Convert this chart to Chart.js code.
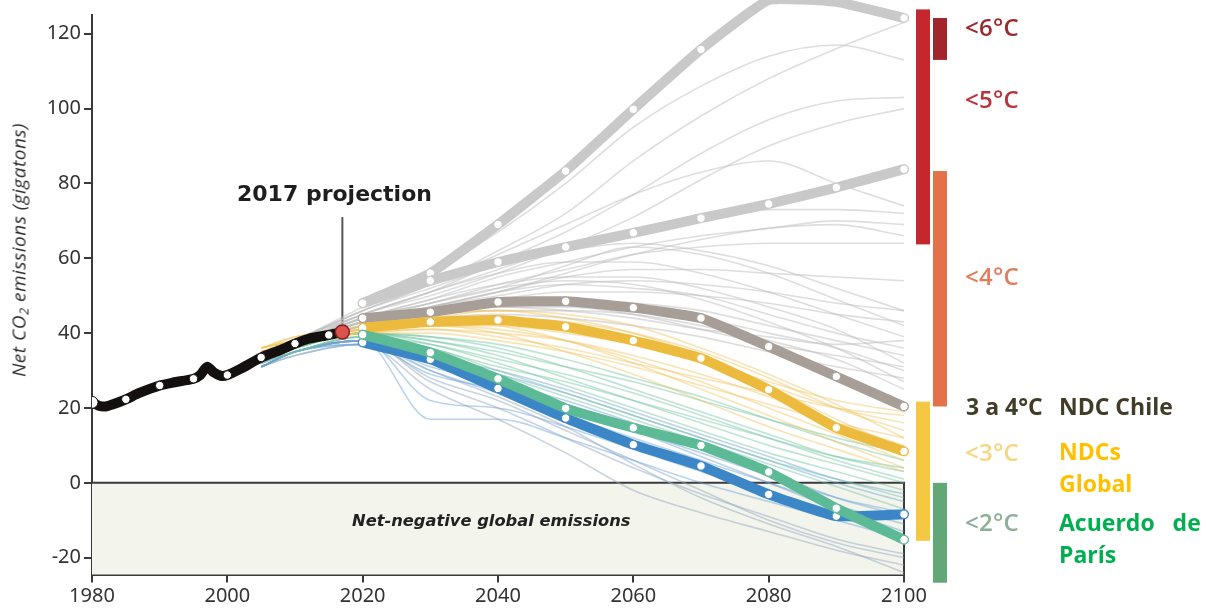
<!DOCTYPE html>
<html>
<head>
<meta charset="utf-8">
<script src="https://cdn.jsdelivr.net/npm/chart.js@4.4.1/dist/chart.umd.min.js"></script>
<style>
  html, body { margin: 0; padding: 0; background: #fff; }
  #wrap { position: relative; width: 1206px; height: 609px; overflow: hidden; }
  #c { position: absolute; left: 0; top: 0; }
  .t { position: absolute; white-space: nowrap; line-height: 1; font-family: "Open Sans", sans-serif; }
  .temp { font-weight: 600; font-size: 24px; letter-spacing: 0.3px; }
  .note { font-weight: 700; font-size: 23px; }
</style>
</head>
<body>
<div id="wrap">
  <canvas id="c" width="1206" height="609"></canvas>
  <div class="t" id="ytitle" style="left:20px; top:250px; transform: translate(-50%,-50%) rotate(-90deg); font-style: italic; font-size: 19px; color:#2e2e2e; letter-spacing: 0.5px;">Net CO<sub style="font-size:13px; vertical-align:-3px;">2</sub> emissions (gigatons)</div>
  <div class="t" style="left:237px; top:183px; font-family:'DejaVu Sans',sans-serif; font-weight:700; font-size:22px; color:#1e1e1e;">2017 projection</div>
  <div class="t" style="left:352px; top:513px; font-family:'DejaVu Sans',sans-serif; font-weight:700; font-style:italic; font-size:16.3px; color:#222;">Net-negative global emissions</div>

  <div class="t temp" style="left:965px; top:15px; color:#9b2a2e;">&lt;6°C</div>
  <div class="t temp" style="left:965px; top:87px; color:#b8343a;">&lt;5°C</div>
  <div class="t temp" style="left:965px; top:264px; color:#e27d5c;">&lt;4°C</div>
  <div class="t temp" style="left:965px; top:440px; color:#f6d680;">&lt;3°C</div>
  <div class="t temp" style="left:965px; top:510px; color:#8fae97;">&lt;2°C</div>

  <div class="t note" style="left:966px; top:395px; color:#403c28;">3 a 4°C</div>
  <div class="t note" style="left:1059px; top:395px; color:#403c28;">NDC Chile</div>
  <div class="t note" style="left:1059px; top:440px; color:#ffc000;">NDCs</div>
  <div class="t note" style="left:1059px; top:472px; color:#ffc000;">Global</div>
  <div class="t note" style="left:1059px; top:511px; color:#00b050; word-spacing: 12px;">Acuerdo de</div>
  <div class="t note" style="left:1059px; top:543px; color:#00b050;">París</div>
</div>
<script>
// ---------------- DATA ----------------
const xTicks = [1980, 2000, 2020, 2040, 2060, 2080, 2100];
const yTicks = [-20, 0, 20, 40, 60, 80, 100, 120];

// historical emissions
const histYears  = [1980, 1981, 1982, 1983, 1985, 1987, 1990, 1992, 1995, 1996, 1997, 1998, 1999, 2000, 2002, 2005, 2008, 2010, 2012, 2015, 2017];
const histValues = [21.5, 20.6, 20.4, 20.9, 22.3, 24.0, 26.0, 26.8, 27.8, 28.8, 31.0, 29.5, 28.6, 28.8, 30.5, 33.5, 35.6, 37.2, 38.5, 39.5, 40.3];
const projYear = 2017;
const projValue = 40.3;

// highlighted scenarios
const scenYears = [2020, 2030, 2040, 2050, 2060, 2070, 2080, 2090, 2100];
const scen6C     = [48.0, 56.0, 69.0, 83.3, 99.8, 115.8, 129.0, 128.5, 124.2];
const scen5C     = [48.0, 54.0, 59.0, 63.0, 66.8, 70.7, 74.5, 78.9, 83.8];
const scenChile  = [44.0, 45.6, 48.3, 48.5, 46.8, 44.0, 36.4, 28.4, 20.4];
const scenNDC    = [41.4, 43.0, 43.5, 41.7, 38.0, 33.3, 24.9, 14.7, 8.4];
const scenParis  = [39.6, 34.8, 27.8, 19.9, 14.7, 10.0, 2.9, -6.8, -15.2];
const scenBlue   = [37.5, 33.0, 25.2, 17.3, 10.2, 4.5, -3.1, -8.9, -8.4];

// background scenario ensemble
const thinYears = [2005, 2010, 2020, 2030, 2040, 2050, 2060, 2070, 2080, 2090, 2100];
const grayThin = [
  [34, 38, 47, 56, 67, 80, 95, 106, 114, 117, 113],
  [34, 38, 46, 53, 62, 72, 86, 98, 108, 116, 123],
  [33, 38, 45, 51, 59, 67, 77, 88, 97, 102, 103],
  [33, 37, 45, 50, 56, 63, 71, 81, 90, 96, 100],
  [34, 38, 46, 53, 61, 69, 77, 83, 86, 80, 74],
  [33, 37, 45, 51, 57, 63, 67, 71, 73, 73, 72],
  [33, 37, 44, 49, 55, 59, 63, 66, 68, 70, 69],
  [33, 37, 44, 48, 53, 57, 61, 63, 64, 64, 64],
  [33, 37, 44, 47, 51, 55, 57, 57, 56, 55, 54],
  [32, 37, 43, 47, 50, 53, 54, 53, 51, 48, 46],
  [32, 36, 43, 46, 49, 51, 51, 50, 48, 45, 43],
  [33, 37, 43, 47, 51, 53, 52, 50, 45, 40, 36],
  [32, 36, 42, 46, 48, 49, 48, 46, 42, 38, 34],
  [32, 36, 42, 45, 47, 48, 47, 44, 40, 36, 30],
  [33, 37, 43, 48, 52, 54, 53, 49, 43, 36, 27],
  [33, 37, 44, 49, 53, 55, 55, 52, 47, 41, 32],
  [32, 36, 42, 45, 46, 46, 45, 42, 38, 33, 25],
  [34, 38, 45, 51, 56, 59, 59, 56, 51, 45, 39],
  [33, 37, 43, 47, 51, 56, 61, 65, 68, 69, 66],
  [33, 37, 44, 48, 52, 58, 63, 61, 56, 49, 42],
  [32, 36, 42, 44, 45, 44, 42, 39, 35, 31, 28],
  [33, 37, 43, 46, 47, 46, 44, 41, 39, 37, 38],
  [34, 38, 46, 52, 58, 62, 64, 62, 58, 52, 46],
  [32, 36, 42, 45, 47, 47, 45, 41, 37, 34, 31]
];
const yellowThin = [
  [36, 38, 41, 43, 44, 43, 40, 35, 28, 20, 14],
  [36, 38, 41, 42, 42, 40, 37, 32, 26, 20, 16],
  [35, 38, 40, 41, 40, 38, 34, 29, 23, 16, 10],
  [36, 39, 41, 44, 46, 45, 42, 36, 29, 21, 12],
  [35, 38, 40, 42, 41, 38, 33, 27, 20, 13, 6],
  [36, 39, 42, 45, 46, 44, 40, 34, 26, 17, 9],
  [35, 37, 40, 40, 38, 35, 31, 26, 21, 16, 12],
  [35, 38, 41, 43, 42, 38, 32, 25, 18, 11, 4],
  [35, 37, 40, 41, 39, 36, 32, 28, 24, 20, 18],
  [36, 38, 41, 42, 40, 35, 29, 22, 15, 9, 3],
  [36, 38, 41, 43, 43, 41, 38, 33, 27, 22, 19]
];
const tealThin = [
  [33, 36, 40, 37, 32, 26, 20, 14, 8, 3, -2],
  [33, 36, 40, 38, 34, 28, 22, 16, 10, 5, 0],
  [32, 35, 39, 36, 30, 24, 18, 12, 6, 1, -4],
  [33, 36, 40, 39, 36, 31, 25, 19, 13, 7, 3],
  [32, 35, 39, 35, 29, 23, 17, 11, 5, -1, -7],
  [33, 36, 40, 38, 35, 31, 27, 22, 17, 12, 8],
  [32, 35, 39, 37, 33, 29, 24, 18, 12, 6, 1],
  [33, 36, 40, 36, 31, 27, 22, 17, 12, 7, 4],
  [33, 36, 40, 39, 37, 33, 28, 23, 17, 11, 6]
];
const blueThin = [
  [31, 35, 38, 17, 17, 12, 6, 0, -5, -10, -15],
  [31, 35, 38, 22, 20, 15, 9, 3, -3, -9, -14],
  [31, 35, 38, 28, 22, 14, 6, -2, -10, -16, -20],
  [31, 35, 37, 30, 24, 18, 12, 6, 0, -6, -11],
  [31, 35, 38, 32, 26, 20, 14, 7, 0, -7, -13],
  [31, 34, 37, 25, 17, 8, -2, -8, -13, -18, -22],
  [31, 35, 38, 31, 27, 22, 16, 10, 3, -4, -9],
  [31, 35, 37, 33, 29, 24, 18, 12, 6, 0, -5],
  [31, 35, 38, 30, 23, 15, 5, -4, -11, -17, -24],
  [31, 35, 38, 34, 30, 25, 19, 13, 7, 1, -3],
  [31, 34, 37, 29, 25, 20, 14, 8, 2, -4, -8],
  [31, 35, 38, 27, 20, 12, 4, -3, -9, -15, -19]
];

// temperature bands (value ranges on the emissions axis)
const bandLabels = ['<5°C', '<6°C', '<4°C', '<3°C', '<2°C'];
const bandLow    = [63.7, 113.0, 20.4, -15.5, -26.7];
const bandHigh   = [126.5, 124.2, 83.3, 21.7, 0.0];
const projLabelValue = 71;   // top of the leader line for "2017 projection"

// ---------------- STYLE ----------------
const bandColors = ['#c4282e', '#a1252a', '#e4714a', '#f4c843', '#62a877'];
const bandLane   = [0, 1, 1, 0, 1];
const laneX = [916, 933];
const laneW = 14;

function pts(xs, ys) { return xs.map((x, i) => ({ x: x, y: ys[i] })); }

function thick(label, ys, color) {
  return {
    label, data: pts(scenYears, ys), borderColor: color, borderWidth: 10,
    tension: 0.12, borderCapStyle: 'round', borderJoinStyle: 'round',
    pointRadius: 4.2, pointBackgroundColor: '#fff', pointBorderColor: color, pointBorderWidth: 1,
    clip: false
  };
}
function thin(ys, color, w) {
  return {
    label: '', data: pts(thinYears, ys), borderColor: color, borderWidth: w || 1.6,
    cubicInterpolationMode: 'monotone', pointRadius: 0
  };
}

const datasets = [];
datasets.push({
  label: '2017 projection', data: [{ x: projYear, y: projValue }], showLine: false,
  pointRadius: 7, pointBackgroundColor: '#d9534f', pointBorderColor: '#8a1f1f', pointBorderWidth: 1.5
});
datasets.push({
  label: 'Historical', data: pts(histYears, histValues), borderColor: '#141010', borderWidth: 10,
  tension: 0.25, borderCapStyle: 'round', borderJoinStyle: 'round',
  pointRadius: ctx => { const r = ctx.raw; if (!r) return 0; if (r.x === 1980) return 6; return (r.x % 5 === 0 && r.x < 2017) ? 4.2 : 0; },
  pointBackgroundColor: '#fff', pointBorderColor: '#141010', pointBorderWidth: 1
});
datasets.push(thick('<2°C Paris', scenParis, '#5dba96'));
datasets.push(thick('<2°C low', scenBlue, '#3b86c6'));
datasets.push(thick('NDCs', scenNDC, '#ecba3c'));
datasets.push(thick('NDC Chile', scenChile, '#a69e97'));
datasets.push(thick('<5°C', scen5C, '#c9c9c9'));
datasets.push(thick('<6°C', scen6C, '#c9c9c9'));
yellowThin.forEach(d => datasets.push(thin(d, 'rgba(240,196,92,0.45)')));
tealThin.forEach(d => datasets.push(thin(d, 'rgba(110,196,160,0.45)')));
blueThin.forEach((d, i) => datasets.push(thin(d, i % 3 === 2 ? 'rgba(150,170,195,0.5)' : 'rgba(105,160,212,0.45)')));
grayThin.forEach(d => datasets.push(thin(d, 'rgba(190,190,190,0.5)')));

const decor = {
  id: 'decor',
  beforeDatasetsDraw(chart) {
    const { ctx, scales: { x, y } } = chart;
    const x0 = x.getPixelForValue(1980), x1 = x.getPixelForValue(2100);
    const yz = y.getPixelForValue(0), yb = chart.chartArea.bottom;
    ctx.save();
    ctx.fillStyle = '#f3f5ec';
    ctx.fillRect(x0, yz, x1 - x0, yb - yz);
    ctx.strokeStyle = '#3a3a3a'; ctx.lineWidth = 2;
    ctx.beginPath(); ctx.moveTo(x0, yz); ctx.lineTo(x1, yz); ctx.lineTo(x1, yb); ctx.stroke();
    const px = x.getPixelForValue(projYear);
    ctx.strokeStyle = '#555'; ctx.lineWidth = 2;
    ctx.beginPath(); ctx.moveTo(px, y.getPixelForValue(projLabelValue)); ctx.lineTo(px, y.getPixelForValue(projValue) - 6); ctx.stroke();
    ctx.restore();
  },
  afterDraw(chart) {
    const { ctx, scales: { y } } = chart;
    ctx.save();
    bandLabels.forEach((lab, i) => {
      const top = y.getPixelForValue(bandHigh[i]);
      const bot = y.getPixelForValue(bandLow[i]);
      ctx.fillStyle = bandColors[i];
      ctx.fillRect(laneX[bandLane[i]], top, laneW, bot - top);
    });
    ctx.restore();
  }
};

new Chart(document.getElementById('c'), {
  type: 'line',
  data: { datasets },
  plugins: [decor],
  options: {
    responsive: false, animation: false, events: [],
    layout: { padding: { left: 0, right: 302, top: 4, bottom: 0 } },
    plugins: { legend: { display: false }, tooltip: { enabled: false } },
    scales: {
      x: {
        type: 'linear', min: 1980, max: 2100,
        afterBuildTicks: s => { s.ticks = xTicks.map(v => ({ value: v })); },
        afterFit: s => { s.height = 34.5; },
        ticks: { callback: v => String(v), color: '#333', padding: 2, maxRotation: 0,
                 font: { family: 'Noto Sans', size: 20 } },
        grid: { drawOnChartArea: false, drawTicks: true, tickLength: 8, color: '#3a3a3a', lineWidth: 2 },
        border: { display: true, color: '#3a3a3a', width: 2 }
      },
      y: {
        type: 'linear', min: -24.5, max: 125,
        afterBuildTicks: s => { s.ticks = yTicks.map(v => ({ value: v })); },
        afterFit: s => { s.width = 92; },
        ticks: { callback: v => String(v), color: '#333', padding: 3,
                 font: { family: 'Noto Sans', size: 20 } },
        grid: { drawOnChartArea: false, drawTicks: true, tickLength: 8, color: '#3a3a3a', lineWidth: 2 },
        border: { display: true, color: '#3a3a3a', width: 2 }
      }
    }
  }
});
</script>
</body>
</html>
